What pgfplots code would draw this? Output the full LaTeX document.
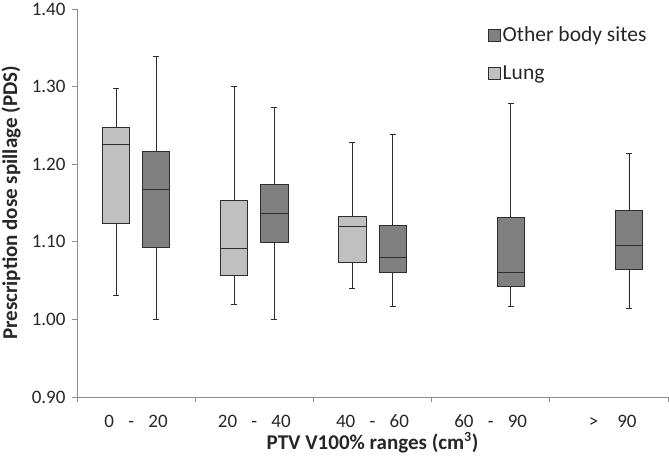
\documentclass[border=0pt]{standalone}
\usepackage{pgfplots}
\pgfplotsset{compat=1.18}
\usepgfplotslibrary{statistics}
\usepackage{fontspec}
\setmainfont{Carlito}
\definecolor{lung}{HTML}{C0C0C0}
\definecolor{other}{HTML}{808080}
\definecolor{axgray}{HTML}{8C8C8C}
\definecolor{edge}{HTML}{2E2E2E}
\begin{document}
\begin{tikzpicture}
\useasboundingbox (-77pt,-64pt) rectangle (592pt,397pt);
\begin{axis}[
  at={(0pt,0pt)}, anchor=south west,
  scale only axis, width=591pt, height=388pt,
  xmin=0.5, xmax=5.5, ymin=0.9, ymax=1.4,
  axis x line=bottom, axis y line=left,
  axis line style={-, draw=axgray, line width=0.8pt},
  tick style={draw=axgray, line width=0.8pt},
  tick align=outside, major tick length=5pt,
  ytick={0.9,1.0,1.1,1.2,1.3,1.4},
  yticklabel style={xshift=-3pt, /pgf/number format/.cd, fixed, fixed zerofill, precision=2},
  /pgf/number format/assume math mode=true,
  xtick={0.5,1.5,2.5,3.5,4.5,5.5},
  x tick label as interval,
  xticklabels={{0\hspace{0.75em}-\hspace{0.75em}20},{20\hspace{0.75em}-\hspace{0.75em}40},{40\hspace{0.75em}-\hspace{0.75em}60},{60\hspace{0.75em}-\hspace{0.75em}90},{\hspace{0.4em}>\hspace{1em}90}},
  tick label style={font=\fontsize{19}{21}\selectfont, text=black!85},
  xticklabel style={anchor=base, yshift=-25pt},
  xlabel={\textbf{PTV V100\% ranges (cm\textsuperscript{\fontsize{14}{14}\selectfont 3})}},
  ylabel={\textbf{Prescription dose spillage (PDS)}},
  label style={font=\fontsize{21}{23}\selectfont, text=black!85},
  xlabel style={at={(axis description cs:0.5,0)}, anchor=base, yshift=-52.5pt},
  ylabel style={at={(axis description cs:-0.1117,0.5)}, anchor=center},
  legend style={draw=none, fill=none, at={(0.69,0.965)}, anchor=north west,
    font=\fontsize{21.5}{23}\selectfont, row sep=18pt, text=black!85},
  legend cell align=left,
  legend image code/.code={\draw[#1] (0pt,-6pt) rectangle (12pt,6pt);},
  boxplot/draw direction=y,
  boxplot/box extend=0.23,
  boxplot/whisker extend=0.05,
]
\addlegendimage{fill=other, draw=edge, line width=0.7pt}
\addlegendentry{Other body sites}
\addlegendimage{fill=lung, draw=edge, line width=0.7pt}
\addlegendentry{Lung}
% Lung
\addplot[fill=lung, draw=edge, line width=0.7pt, forget plot, boxplot prepared={draw position=0.83, lower whisker=1.031, lower quartile=1.124, median=1.2255, upper quartile=1.248, upper whisker=1.298}] coordinates {};
\addplot[fill=lung, draw=edge, line width=0.7pt, forget plot, boxplot prepared={draw position=1.83, lower whisker=1.019, lower quartile=1.057, median=1.092, upper quartile=1.153, upper whisker=1.300}] coordinates {};
\addplot[fill=lung, draw=edge, line width=0.7pt, forget plot, boxplot prepared={draw position=2.83, lower whisker=1.040, lower quartile=1.073, median=1.120, upper quartile=1.133, upper whisker=1.228}] coordinates {};
% Other body sites
\addplot[fill=other, draw=edge, line width=0.7pt, forget plot, boxplot prepared={draw position=1.17, lower whisker=1.000, lower quartile=1.093, median=1.167, upper quartile=1.217, upper whisker=1.339}] coordinates {};
\addplot[fill=other, draw=edge, line width=0.7pt, forget plot, boxplot prepared={draw position=2.17, lower whisker=1.000, lower quartile=1.099, median=1.137, upper quartile=1.174, upper whisker=1.273}] coordinates {};
\addplot[fill=other, draw=edge, line width=0.7pt, forget plot, boxplot prepared={draw position=3.17, lower whisker=1.017, lower quartile=1.061, median=1.080, upper quartile=1.121, upper whisker=1.239}] coordinates {};
\addplot[fill=other, draw=edge, line width=0.7pt, forget plot, boxplot prepared={draw position=4.17, lower whisker=1.0165, lower quartile=1.043, median=1.060, upper quartile=1.132, upper whisker=1.278}] coordinates {};
\addplot[fill=other, draw=edge, line width=0.7pt, forget plot, boxplot prepared={draw position=5.17, lower whisker=1.014, lower quartile=1.065, median=1.095, upper quartile=1.141, upper whisker=1.214}] coordinates {};
\end{axis}
\end{tikzpicture}
\end{document}
